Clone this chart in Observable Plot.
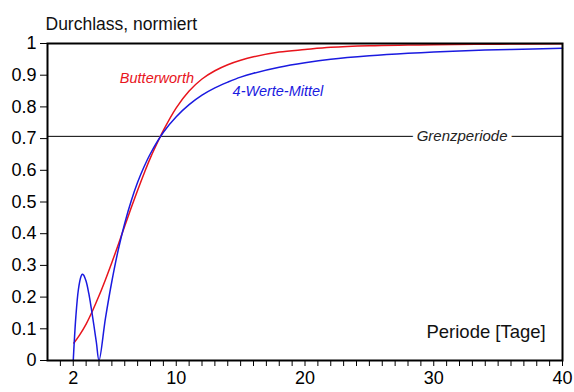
<!DOCTYPE html>
<html>
<head>
<meta charset="utf-8">
<script src="https://cdn.jsdelivr.net/npm/d3@7"></script>
<script src="https://cdn.jsdelivr.net/npm/@observablehq/plot@0.6"></script>
<style>
  body { margin: 0; background: #fff; }
  svg { font-family: "Liberation Sans", Arial, sans-serif; }
</style>
</head>
<body>
<div id="chart"></div>
<script>
// Periods [Tage]
const periodsMA = [2, 2.2, 2.4, 2.6, 2.7, 2.8, 3, 3.2, 3.4, 3.6, 3.8, 4, 4.5, 5, 5.5, 6, 6.5, 7, 7.5, 8, 9, 10, 11, 12, 13, 14, 15, 16, 18, 20, 22, 25, 28, 30, 33, 36, 40];
const valuesMA  = [0, 0.137, 0.224, 0.265, 0.272, 0.270, 0.250, 0.213, 0.165, 0.112, 0.056, 0, 0.133, 0.250, 0.350, 0.433, 0.503, 0.562, 0.611, 0.653, 0.720, 0.769, 0.807, 0.837, 0.860, 0.878, 0.894, 0.906, 0.925, 0.939, 0.950, 0.961, 0.969, 0.973, 0.978, 0.981, 0.985];

const periodsBW = [2.05, 2.5, 3, 3.5, 4, 4.5, 5, 5.5, 6, 6.5, 7, 7.5, 8, 8.77, 9, 10, 11, 12, 13, 14, 15, 16, 18, 20, 22, 25, 28, 30, 35, 40];
const valuesBW  = [0.055, 0.081, 0.115, 0.157, 0.204, 0.255, 0.309, 0.366, 0.424, 0.482, 0.537, 0.590, 0.640, 0.707, 0.726, 0.797, 0.850, 0.888, 0.914, 0.933, 0.947, 0.958, 0.973, 0.981, 0.988, 0.993, 0.995, 0.996, 0.998, 0.999];

const grenzwert = 0.7071;
const xTicks = d3.range(1, 41);
const xLabels = [2, 10, 20, 30, 40];
const yTicks = [0, 0.1, 0.2, 0.3, 0.4, 0.5, 0.6, 0.7, 0.8, 0.9, 1];

const ma = periodsMA.map((p, i) => ({p, v: valuesMA[i]}));
const bw = periodsBW.map((p, i) => ({p, v: valuesBW[i]}));

const chart = Plot.plot({
  width: 574,
  height: 392,
  marginLeft: 47,
  marginRight: 12,
  marginTop: 43,
  marginBottom: 32,
  style: {fontFamily: "'Liberation Sans', Arial, sans-serif", background: "#fff"},
  x: {domain: [0, 40]},
  y: {domain: [0, 1]},
  marks: [
    Plot.ruleY([grenzwert], {stroke: "#000", strokeWidth: 1}),
    Plot.text(["Grenzperiode"], {x: 32.2, y: grenzwert, fontSize: 15, fontStyle: "italic", fill: "#222", stroke: "#fff", strokeWidth: 9, paintOrder: "stroke"}),
    Plot.line(bw, {x: "p", y: "v", stroke: "#e8141c", strokeWidth: 1.5, curve: "catmull-rom"}),
    Plot.line(ma, {x: "p", y: "v", stroke: "#1a1ae0", strokeWidth: 1.5, curve: "catmull-rom"}),
    Plot.text(["Butterworth"], {x: 8.5, y: 0.889, fontSize: 14.5, fontStyle: "italic", fill: "#e8141c"}),
    Plot.text(["4-Werte-Mittel"], {x: 17.9, y: 0.848, fontSize: 14.5, fontStyle: "italic", fill: "#1a1ae0"}),
    Plot.text(["Periode [Tage]"], {x: 38.7, y: 0.09, fontSize: 18.5, textAnchor: "end", fill: "#111"}),
    Plot.text(["Durchlass, normiert"], {frameAnchor: "top-left", dx: -2, dy: -26, fontSize: 17.5, fill: "#111"}),
    Plot.axisY({ticks: yTicks, tickSize: 7, tickPadding: 4, fontSize: 18, tickFormat: d => String(+d.toFixed(1)), label: null, stroke: "#000", fill: "#000"}),
    Plot.axisX({ticks: xTicks, tickSize: 6, tickPadding: 5, fontSize: 18, tickFormat: d => xLabels.includes(d) ? String(d) : "", label: null, stroke: "#000", fill: "#000"}),
    Plot.frame({stroke: "#000", strokeWidth: 2})
  ]
});
document.getElementById("chart").appendChild(chart);
</script>
</body>
</html>
